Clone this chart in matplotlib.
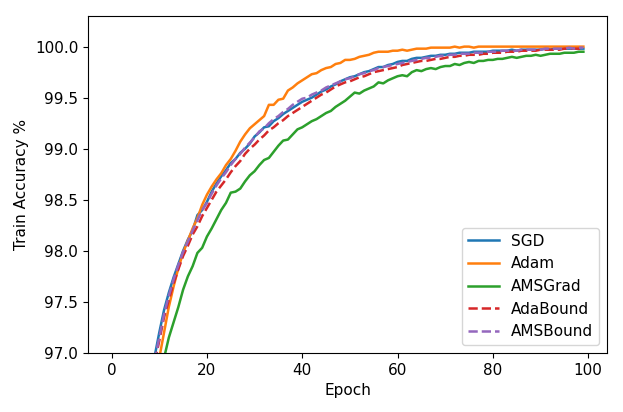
import numpy as np
import matplotlib
matplotlib.use("Agg")
import matplotlib.pyplot as plt

# Точность на обучении по эпохам (0..99)
epochs = list(range(100))

sgd = [88.5, 92.0, 93.6, 94.6, 95.3, 95.8, 96.2, 96.5, 96.78, 96.96,
       97.2, 97.42, 97.59, 97.74, 97.87, 98.0, 98.11, 98.2, 98.35, 98.4,
       98.48, 98.58, 98.66, 98.73, 98.79, 98.86, 98.9, 98.96, 99.0, 99.05,
       99.12, 99.16, 99.21, 99.22, 99.27, 99.3, 99.34, 99.37, 99.4, 99.43,
       99.46, 99.48, 99.5, 99.53, 99.56, 99.58, 99.61, 99.63, 99.66, 99.68,
       99.7, 99.71, 99.73, 99.75, 99.76, 99.78, 99.8, 99.8, 99.82, 99.83,
       99.85, 99.86, 99.86, 99.88, 99.89, 99.89, 99.9, 99.91, 99.91, 99.92,
       99.92, 99.93, 99.93, 99.94, 99.94, 99.94, 99.95, 99.95, 99.95, 99.95,
       99.96, 99.96, 99.96, 99.96, 99.97, 99.96, 99.97, 99.97, 99.97, 99.97,
       99.97, 99.98, 99.97, 99.98, 99.98, 99.98, 99.98, 99.98, 99.98, 99.98]

adam = [86.0, 91.0, 93.0, 94.2, 95.0, 95.5, 95.9, 96.2, 96.5, 96.75,
        96.95, 97.2, 97.45, 97.65, 97.83, 97.98, 98.1, 98.22, 98.32, 98.45,
        98.55, 98.63, 98.7, 98.76, 98.84, 98.9, 98.98, 99.07, 99.14, 99.2,
        99.24, 99.28, 99.32, 99.43, 99.43, 99.48, 99.49, 99.57, 99.6, 99.64,
        99.67, 99.7, 99.73, 99.74, 99.77, 99.79, 99.8, 99.83, 99.84, 99.87,
        99.87, 99.88, 99.9, 99.91, 99.92, 99.94, 99.95, 99.95, 99.95, 99.96,
        99.96, 99.97, 99.96, 99.97, 99.98, 99.98, 99.98, 99.99, 99.99, 99.99,
        99.99, 99.99, 100.0, 99.99, 100.0, 100.0, 99.99, 100.0, 100.0, 100.0,
        100.0, 100.0, 100.0, 100.0, 100.0, 100.0, 100.0, 100.0, 100.0, 100.0,
        100.0, 100.0, 100.0, 100.0, 100.0, 100.0, 100.0, 100.0, 100.0, 100.0]

amsgrad = [85.0, 90.5, 92.6, 93.8, 94.7, 95.3, 95.75, 96.1, 96.4, 96.6,
           96.8, 96.95, 97.15, 97.3, 97.45, 97.62, 97.75, 97.85, 97.98, 98.03,
           98.14, 98.22, 98.31, 98.4, 98.47, 98.57, 98.58, 98.61, 98.68, 98.74,
           98.78, 98.84, 98.89, 98.91, 98.97, 99.03, 99.08, 99.09, 99.14, 99.19,
           99.21, 99.24, 99.27, 99.29, 99.32, 99.35, 99.37, 99.41, 99.44, 99.47,
           99.51, 99.55, 99.54, 99.57, 99.59, 99.61, 99.65, 99.64, 99.67, 99.69,
           99.71, 99.72, 99.71, 99.75, 99.77, 99.76, 99.78, 99.79, 99.78, 99.8,
           99.81, 99.81, 99.83, 99.82, 99.84, 99.85, 99.84, 99.86, 99.86, 99.87,
           99.87, 99.88, 99.88, 99.89, 99.9, 99.89, 99.9, 99.91, 99.91, 99.92,
           99.91, 99.92, 99.93, 99.93, 99.93, 99.94, 99.94, 99.94, 99.95, 99.95]

adabound = [87.5, 91.8, 93.4, 94.4, 95.1, 95.6, 96.0, 96.35, 96.65, 96.9,
            97.12, 97.35, 97.52, 97.68, 97.82, 97.95, 98.05, 98.16, 98.24, 98.34,
            98.42, 98.5, 98.58, 98.64, 98.7, 98.77, 98.83, 98.88, 98.95, 99.0,
            99.04, 99.09, 99.13, 99.18, 99.21, 99.25, 99.28, 99.32, 99.35, 99.38,
            99.41, 99.44, 99.47, 99.5, 99.53, 99.55, 99.58, 99.61, 99.63, 99.65,
            99.66, 99.68, 99.7, 99.71, 99.73, 99.75, 99.76, 99.77, 99.78, 99.79,
            99.8, 99.82, 99.83, 99.84, 99.85, 99.86, 99.86, 99.87, 99.88, 99.88,
            99.89, 99.9, 99.9, 99.91, 99.91, 99.92, 99.92, 99.92, 99.93, 99.93,
            99.94, 99.94, 99.94, 99.95, 99.95, 99.95, 99.96, 99.96, 99.96, 99.96,
            99.97, 99.97, 99.97, 99.97, 99.97, 99.98, 99.98, 99.98, 99.98, 99.98]

amsbound = [88.0, 91.9, 93.5, 94.5, 95.2, 95.7, 96.1, 96.45, 96.72, 96.93,
            97.15, 97.38, 97.56, 97.72, 97.86, 97.99, 98.09, 98.2, 98.3, 98.4,
            98.47, 98.56, 98.64, 98.71, 98.77, 98.84, 98.9, 98.95, 99.01, 99.06,
            99.11, 99.17, 99.2, 99.25, 99.29, 99.32, 99.36, 99.39, 99.43, 99.46,
            99.49, 99.5, 99.53, 99.55, 99.57, 99.6, 99.62, 99.64, 99.66, 99.68,
            99.69, 99.71, 99.73, 99.74, 99.76, 99.77, 99.79, 99.8, 99.81, 99.82,
            99.83, 99.84, 99.85, 99.86, 99.87, 99.88, 99.89, 99.89, 99.9, 99.91,
            99.91, 99.92, 99.92, 99.93, 99.93, 99.93, 99.94, 99.94, 99.94, 99.95,
            99.95, 99.95, 99.96, 99.96, 99.96, 99.96, 99.97, 99.97, 99.97, 99.97,
            99.97, 99.98, 99.98, 99.98, 99.98, 99.98, 99.99, 99.98, 99.99, 99.99]

plt.rcParams["font.size"] = 11

fig, ax = plt.subplots(figsize=(6.23, 4.12), dpi=100)
fig.subplots_adjust(left=0.1413, right=0.9743, top=0.9612, bottom=0.1432)

lw = 1.8
ax.plot(epochs, sgd, label="SGD", color="tab:blue", lw=lw)
ax.plot(epochs, adam, label="Adam", color="tab:orange", lw=lw)
ax.plot(epochs, amsgrad, label="AMSGrad", color="tab:green", lw=lw)
ax.plot(epochs, adabound, "--", label="AdaBound", color="tab:red", lw=lw)
ax.plot(epochs, amsbound, "--", label="AMSBound", color="tab:purple", lw=lw)

ax.set_ylim(97.0, 100.3)
ax.set_xlabel("Epoch")
ax.set_ylabel("Train Accuracy %")
ax.legend(loc="lower right", fontsize=11)

fig.savefig("out.png", dpi=100)
